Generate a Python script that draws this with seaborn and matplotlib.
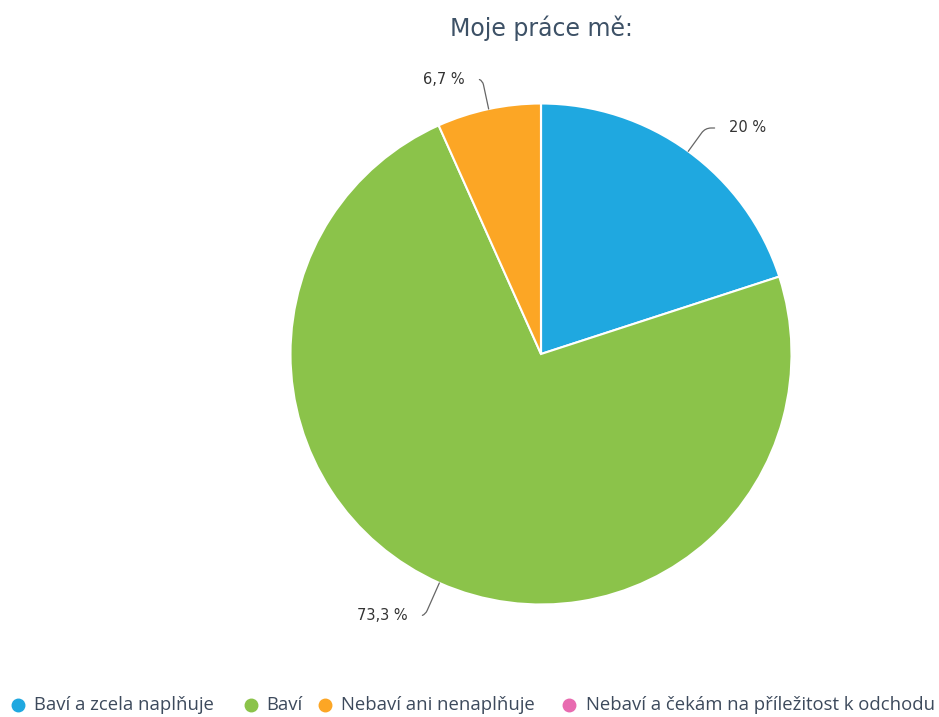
import matplotlib
matplotlib.use("Agg")
import matplotlib.pyplot as plt
import seaborn as sns
import numpy as np

sns.set_theme(style="white")
plt.rcParams['font.family'] = ['DejaVu Sans']

categories = ["Baví a zcela naplňuje", "Baví", "Nebaví ani nenaplňuje", "Nebaví a čekám na příležitost k odchodu"]
values = [20.0, 73.3, 6.7, 0.0]
value_labels = ["20 %", "73,3 %", "6,7 %", ""]
colors = ["#1FA8E0", "#8BC34A", "#FCA625", "#E86BB0"]
title = "Moje práce mě:"

W, H = 939, 717
fig = plt.figure(figsize=(W / 100, H / 100), dpi=100)
ax = fig.add_axes([0, 0, 1, 1])

cx, cy, R = 541, H - 354, 250.5
wedges, _ = ax.pie(values, colors=colors, startangle=90, counterclock=False,
                   center=(cx, cy), radius=R, frame=True,
                   wedgeprops=dict(edgecolor="white", linewidth=1.5))
ax.set_xlim(0, W)
ax.set_ylim(0, H)
ax.set_aspect("equal")
ax.axis("off")

# label text positions in pixels
label_text_pos = {0: (729, H - 128, "left"), 1: (408, H - 616, "right"), 2: (465, H - 79, "right")}
for i, w in enumerate(wedges):
    if values[i] <= 0:
        continue
    angd = (w.theta1 + w.theta2) / 2
    ang = np.deg2rad(angd)
    px, py = cx + R * np.cos(ang), cy + R * np.sin(ang)
    tx, ty, ha = label_text_pos[i]
    ax.annotate(value_labels[i], xy=(px, py), xytext=(tx, ty), ha=ha, va="center",
                fontsize=10.5, color="#333333", family="DejaVu Sans",
                arrowprops=dict(arrowstyle="-", color="#666666", lw=0.9,
                                shrinkA=8, shrinkB=0,
                                connectionstyle="angle,angleA=0,angleB=%.1f,rad=6" % angd,
                                relpos=(0, 0.5) if ha == "left" else (1, 0.5)))

fig.text(541 / W, 1 - 28 / H, title, ha="center", va="center", fontsize=17, color="#3D5166")

# legend (manual placement of items)
marker_x = [18, 251, 325, 569]
text_x = [34, 266, 341, 586]
ly = H - 705
for c, lab, mx, tx in zip(colors, categories, marker_x, text_x):
    ax.plot([mx], [ly], marker="o", markersize=9, color=c, linestyle="", clip_on=False)
    ax.text(tx, ly, lab, ha="left", va="center", fontsize=13.3, family="Open Sans",
            color="#3D4A5C")

fig.savefig("out.png", dpi=100)
